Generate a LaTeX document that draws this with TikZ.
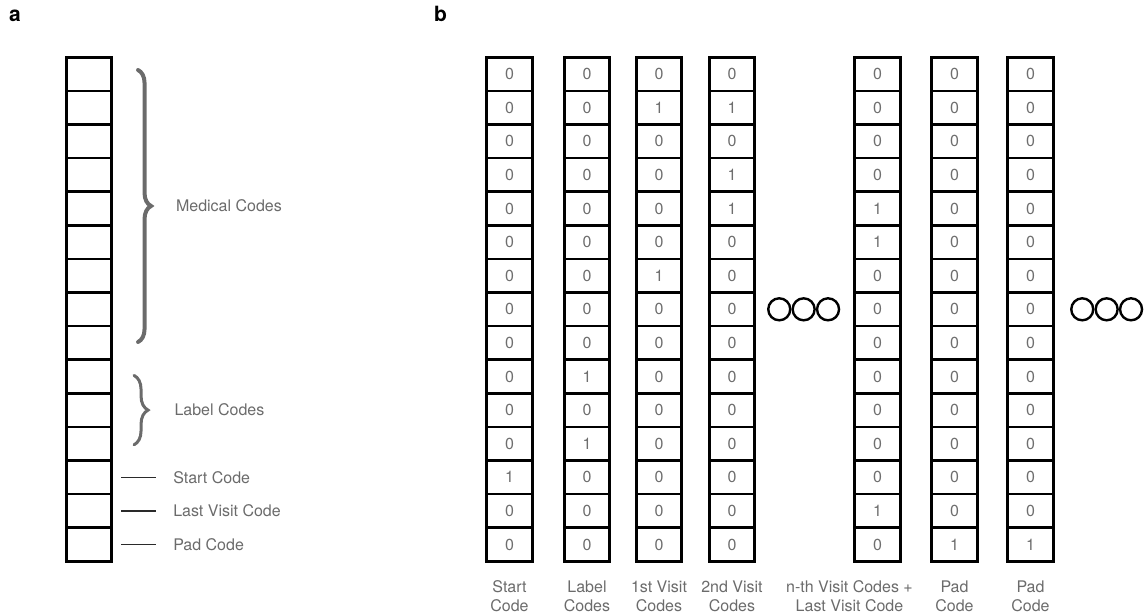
\documentclass[tikz,border=0pt]{standalone}
\usepackage{fontspec}
\setmainfont{TeX Gyre Heros}
\definecolor{codeGrey}{HTML}{6B6B6B}
\definecolor{digitGrey}{HTML}{6E6E6E}
\definecolor{tickBlack}{HTML}{2A2A2A}
\usetikzlibrary{positioning, decorations.pathreplacing}
\tikzset{
    code cell/.style={rectangle, draw=black, line width=2.6pt, minimum width=45.5pt, minimum height=33.6pt, inner sep=0pt, font=\fontsize{16}{18}\selectfont, text=digitGrey},
    dots circle/.style={circle, draw=black, line width=2.4pt, minimum size=22pt, inner sep=0pt},
    side label/.style={font=\fontsize{16}{19}\selectfont, text=codeGrey, inner sep=0pt},
    col label/.style={font=\fontsize{16}{19}\selectfont, text=codeGrey, align=center, inner sep=0pt},
    panel label/.style={font=\fontsize{21}{24}\selectfont\bfseries, inner sep=0pt, anchor=base west},
    brace style/.style={decorate, draw=codeGrey, line cap=round},
    tick line/.style={line width=1.5pt, draw=tickBlack},
}

\begin{document}
\begin{tikzpicture}[x=1pt, y=-1pt, node distance=12pt]
        \useasboundingbox (0,0) rectangle (1146,614);

        % Panel labels
        \node[panel label] (panelA) at (9,21) {a};
        \node[panel label] (panelB) at (434,21) {b};

        % Panel a: empty code vector
        \foreach \r in {1,...,15}
            \node[code cell] (a-\r) at (89, {74.1+(\r-1)*33.6}) {};

        % Braces
        \draw[brace style, line width=4pt, decoration={brace, amplitude=13pt}]
            ([xshift=25pt, yshift=-14pt]a-1.north east) -- ([xshift=25pt, yshift=19pt]a-9.south east)
            node[side label, midway, right=36pt] (medical) {Medical Codes};
        \draw[brace style, line width=3pt, decoration={brace, amplitude=14pt}]
            ([xshift=21pt, yshift=-17pt]a-10.north east) -- ([xshift=21pt, yshift=17pt]a-12.south east)
            node[side label, midway, right=39pt] (label) {Label Codes};

        % Single codes
        \node[side label, right=60pt of a-13] (startcode) {Start Code};
        \node[side label, right=60pt of a-14] (lastcode) {Last Visit Code};
        \node[side label, right=60pt of a-15] (padcode) {Pad Code};
        \draw[tick line] ([xshift=8pt]a-13.east) -- ([xshift=-17pt]startcode.west);
        \draw[tick line] ([xshift=8pt]a-14.east) -- ([xshift=-17pt]lastcode.west);
        \draw[tick line] ([xshift=8pt]a-15.east) -- ([xshift=-17pt]padcode.west);

        % Panel b: encoded visits
        \foreach \name/\x/\vals in {
            start/509.5/{0,0,0,0,0,0,0,0,0,0,0,0,1,0,0},
            labels/587/{0,0,0,0,0,0,0,0,0,1,0,1,0,0,0},
            visitA/659/{0,1,0,0,0,0,1,0,0,0,0,0,0,0,0},
            visitB/732/{0,1,0,1,1,0,0,0,0,0,0,0,0,0,0},
            visitN/877.5/{0,0,0,0,1,1,0,0,0,0,0,0,0,1,0},
            padA/954.5/{0,0,0,0,0,0,0,0,0,0,0,0,0,0,1},
            padB/1030.5/{0,0,0,0,0,0,0,0,0,0,0,0,0,0,1}}{
            \foreach \v [count=\r] in \vals
                \node[code cell] (\name-\r) at (\x, {74.1+(\r-1)*33.6}) {\v};
        }

        % Ellipsis circles
        \node[dots circle, right=11pt of visitB-8] (dotsA-1) {};
        \node[dots circle, right=0pt of dotsA-1] (dotsA-2) {};
        \node[dots circle, right=0pt of dotsA-2] (dotsA-3) {};
        \node[dots circle, right=15.5pt of padB-8] (dotsB-1) {};
        \node[dots circle, right=0pt of dotsB-1] (dotsB-2) {};
        \node[dots circle, right=0pt of dotsB-2] (dotsB-3) {};

        % Column labels
        \node[col label, below=18pt of start-15] (startlbl) {Start\\Code};
        \node[col label, below=18pt of labels-15] (labelslbl) {Label\\Codes};
        \node[col label, below=18pt of visitA-15] (visitAlbl) {1st Visit\\Codes};
        \node[col label, below=18pt of visitB-15] (visitBlbl) {2nd Visit\\Codes};
        \node[col label, below=18pt of visitN-15, xshift=-28pt] (visitNlbl) {n-th Visit Codes +\\Last Visit Code};
        \node[col label, below=18pt of padA-15] (padAlbl) {Pad\\Code};
        \node[col label, below=18pt of padB-15] (padBlbl) {Pad\\Code};
    \end{tikzpicture}
\end{document}
